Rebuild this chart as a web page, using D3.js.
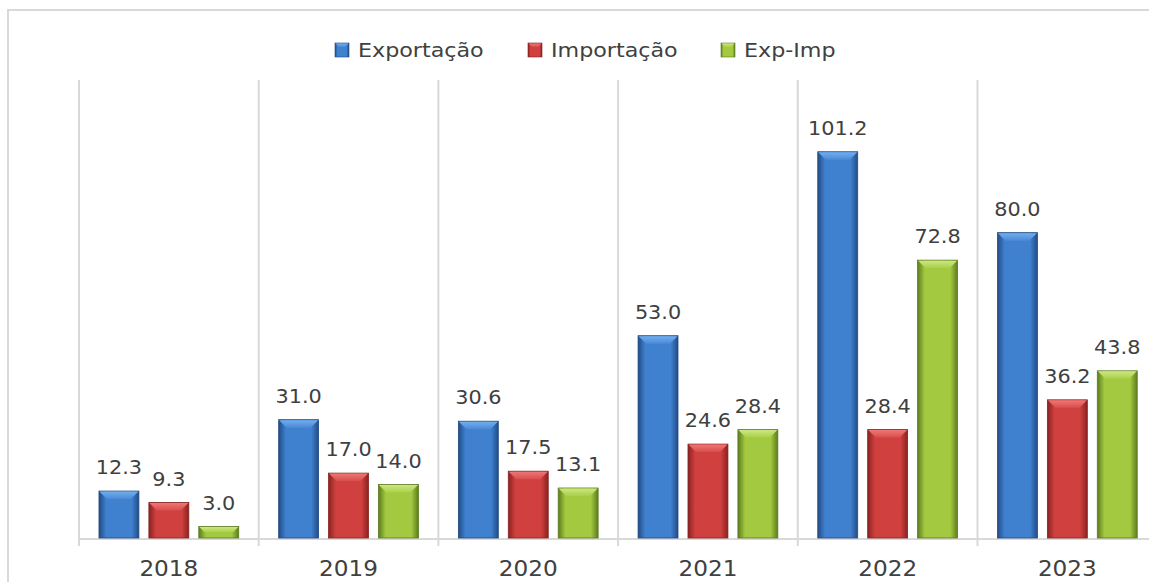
<!DOCTYPE html>
<html>
<head>
<meta charset="utf-8">
<script src="https://cdn.jsdelivr.net/npm/d3@7"></script>
<style>
  html, body { margin: 0; padding: 0; background: #ffffff; }
  svg { display: block; }
</style>
</head>
<body>
<svg id="chart" width="1149" height="582"></svg>
<script>
const years = ["2018", "2019", "2020", "2021", "2022", "2023"];
const seriesNames = ["Exportação", "Importação", "Exp-Imp"];
const exportacao = [12.3, 31.0, 30.6, 53.0, 101.2, 80.0];
const importacao = [9.3, 17.0, 17.5, 24.6, 28.4, 36.2];
const expImp = [3.0, 14.0, 13.1, 28.4, 72.8, 43.8];
const seriesValues = [exportacao, importacao, expImp];

const colors = [
  { edge: "#224c85", mid: "#3f80cf", top: "#72aeee", topEdge: "#4a8ad6", stroke: "#1f4a86" },
  { edge: "#8a2222", mid: "#d0403e", top: "#f07674", topEdge: "#d64e4c", stroke: "#862020" },
  { edge: "#5c7c1c", mid: "#a2c940", top: "#cde680", topEdge: "#a8d048", stroke: "#5a7a1e" }
];

const svg = d3.select("#chart");
const W = 1149, H = 582;
const baseY = 538, topY = 80;
const left = 79, step = 179.7;
const FONT = "DejaVu Sans, Verdana, sans-serif";

const x = d3.scaleBand().domain(years).range([left, left + step * years.length]).paddingInner(0).paddingOuter(0);
const xs = d3.scaleBand().domain(d3.range(3)).range([0, x.bandwidth()]).paddingInner(0.2).paddingOuter(0.4);
const y = d3.scaleLinear().domain([0, 120]).range([baseY, topY]);

// gradients
const defs = svg.append("defs");
colors.forEach((c, i) => {
  const g = defs.append("linearGradient").attr("id", "g" + i).attr("x1", 0).attr("x2", 1).attr("y1", 0).attr("y2", 0);
  g.append("stop").attr("offset", 0).attr("stop-color", c.edge);
  g.append("stop").attr("offset", 0.18).attr("stop-color", c.mid);
  g.append("stop").attr("offset", 0.82).attr("stop-color", c.mid);
  g.append("stop").attr("offset", 1).attr("stop-color", c.edge);
  const t = defs.append("linearGradient").attr("id", "t" + i).attr("x1", 0).attr("x2", 0).attr("y1", 0).attr("y2", 1);
  t.append("stop").attr("offset", 0).attr("stop-color", c.top);
  t.append("stop").attr("offset", 1).attr("stop-color", c.topEdge);
});

// outer frame (partially visible)
svg.append("path")
  .attr("d", `M8,${H} L8,10 L${W},10`)
  .attr("fill", "none").attr("stroke", "#d9d9d9").attr("stroke-width", 2);

// vertical gridlines at category boundaries
const bounds = years.map(d => x(d)).concat([x(years[years.length - 1]) + x.bandwidth()]);
svg.append("g").selectAll("line").data(bounds).join("line")
  .attr("x1", d => d).attr("x2", d => d)
  .attr("y1", topY).attr("y2", baseY + 8)
  .attr("stroke", "#d9d9d9").attr("stroke-width", 2);

// axis baseline
svg.append("line")
  .attr("x1", left).attr("x2", x.range()[1])
  .attr("y1", baseY + 1).attr("y2", baseY + 1)
  .attr("stroke", "#d9d9d9").attr("stroke-width", 2);

// x axis labels
const xAxis = d3.axisBottom(x).tickSize(0).tickPadding(0);
const ax = svg.append("g").attr("transform", `translate(0,${baseY})`).call(xAxis);
ax.select(".domain").remove();
ax.selectAll("text")
  .attr("dy", null).attr("y", 38)
  .attr("transform", "scale(1.13,1)")
  .attr("font-family", FONT)
  .attr("font-size", 20.5).attr("fill", "#404040");

// bars
const bev = 8;
seriesValues.forEach((vals, si) => {
  const g = svg.append("g");
  const data = vals.map((v, i) => ({ year: years[i], v }));
  const bx = d => x(d.year) + xs(si);
  const bw = xs.bandwidth();
  g.selectAll("rect").data(data).join("rect")
    .attr("x", bx).attr("y", d => y(d.v))
    .attr("width", bw).attr("height", d => baseY - y(d.v))
    .attr("fill", `url(#g${si})`)
    .attr("stroke", colors[si].stroke).attr("stroke-width", 0.8);
  g.selectAll("path.bevel").data(data).join("path").attr("class", "bevel")
    .attr("d", d => {
      const x0 = bx(d), y0 = y(d.v);
      const h = Math.min(bev, (baseY - y0) / 2);
      return `M${x0 + 0.5},${y0 + 0.5} L${x0 + bw - 0.5},${y0 + 0.5} L${x0 + bw - h},${y0 + h} L${x0 + h},${y0 + h} Z`;
    })
    .attr("fill", `url(#t${si})`);
  g.selectAll("text").data(data).join("text")
    .attr("transform", d => `translate(${bx(d) + bw / 2},${y(d.v) - 17}) scale(1.04,1)`)
    .attr("text-anchor", "middle")
    .attr("font-family", FONT)
    .attr("font-size", 20).attr("fill", "#404040")
    .text(d => d.v.toFixed(1));
});

// legend
const legendX = [335, 528, 721];
const lg = svg.append("g");
seriesNames.forEach((name, i) => {
  const gg = lg.append("g").attr("transform", `translate(${legendX[i]},43)`);
  gg.append("rect").attr("width", 14).attr("height", 14)
    .attr("fill", `url(#g${i})`).attr("stroke", colors[i].stroke).attr("stroke-width", 0.6);
  gg.append("path").attr("d", "M0.5,0.5 L13.5,0.5 L10,4 L4,4 Z").attr("fill", `url(#t${i})`);
  gg.append("text").attr("transform", "translate(23,14) scale(1.17,1)")
    .attr("font-family", FONT)
    .attr("font-size", 19).attr("fill", "#404040")
    .text(name);
});
</script>
</body>
</html>
